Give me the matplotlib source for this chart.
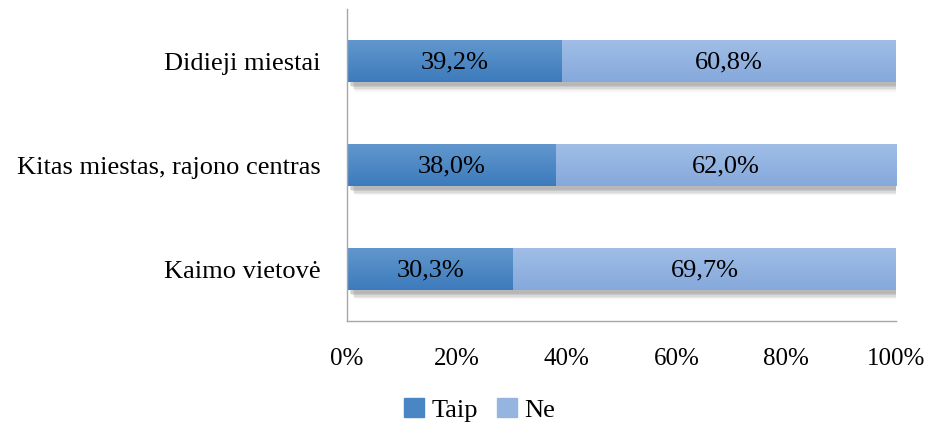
import numpy as np
import matplotlib.pyplot as plt
import matplotlib.patheffects as pe
from matplotlib.patches import Patch
from matplotlib.colors import LinearSegmentedColormap

plt.rcParams['font.family'] = ['Liberation Serif', 'DejaVu Serif']

categories = ['Kaimo vietovė', 'Kitas miestas, rajono centras', 'Didieji miestai']
taip = [30.3, 38.0, 39.2]
ne = [69.7, 62.0, 60.8]
ticks = [0, 20, 40, 60, 80, 100]

c_taip = '#4a86c4'
c_ne = '#95b4e0'

fig = plt.figure(figsize=(9.26, 4.27), dpi=100)
ax = fig.add_axes([0.3747, 0.246, 0.5929, 0.7306])

y = np.arange(len(categories))
# soft drop shadow
shadow = [pe.SimplePatchShadow(offset=(o, -o - 1), shadow_rgbFace='#7f7f7f', alpha=a)
          for o, a in [(6, 0.07), (5, 0.1), (4, 0.14), (3, 0.18), (2, 0.22)]] + [pe.Normal()]
b1 = ax.barh(y, taip, height=0.4, color=c_taip, path_effects=shadow)
b2 = ax.barh(y, ne, left=taip, height=0.4, color=c_ne, path_effects=shadow)

# vertical gradient on each bar
grad = np.linspace(0, 1, 64).reshape(-1, 1)
cm_taip = LinearSegmentedColormap.from_list('t', ['#3d7bbd', '#6197cd'])
cm_ne = LinearSegmentedColormap.from_list('n', ['#86a9dc', '#9fbde6'])
for bars, cm in [(b1, cm_taip), (b2, cm_ne)]:
    for r in bars:
        x0, y0 = r.get_x(), r.get_y()
        ax.imshow(grad, cmap=cm, aspect='auto', origin='lower',
                  extent=(x0, x0 + r.get_width(), y0, y0 + r.get_height()), zorder=2)

for i in range(len(categories)):
    ax.text(taip[i] / 2, y[i], f'{taip[i]:.1f}%'.replace('.', ','),
            ha='center', va='center', fontsize=19, zorder=3)
    ax.text(taip[i] + ne[i] / 2, y[i], f'{ne[i]:.1f}%'.replace('.', ','),
            ha='center', va='center', fontsize=19, zorder=3)

ax.set_xlim(0, 100)
ax.set_ylim(-0.5, 2.5)
ax.set_xticks(ticks)
ax.set_xticklabels([f'{t}%' for t in ticks], fontsize=18)
ax.set_yticks(y)
ax.set_yticklabels(categories, fontsize=19)
ax.tick_params(axis='x', length=0, pad=19)
ax.tick_params(axis='y', length=0, pad=19)

for s in ['top', 'right']:
    ax.spines[s].set_visible(False)
for s in ['left', 'bottom']:
    ax.spines[s].set_color('#a6a6a6')
    ax.spines[s].set_linewidth(1)

handles = [Patch(color=c_taip, label='Taip'), Patch(color=c_ne, label='Ne')]
fig.legend(handles=handles, loc='lower center', bbox_to_anchor=(0.518, -0.045), ncol=2,
           frameon=False, fontsize=19, handlelength=0.75, handleheight=0.75,
           handletextpad=0.3, columnspacing=0.7)

fig.savefig('out.png', dpi=100)
